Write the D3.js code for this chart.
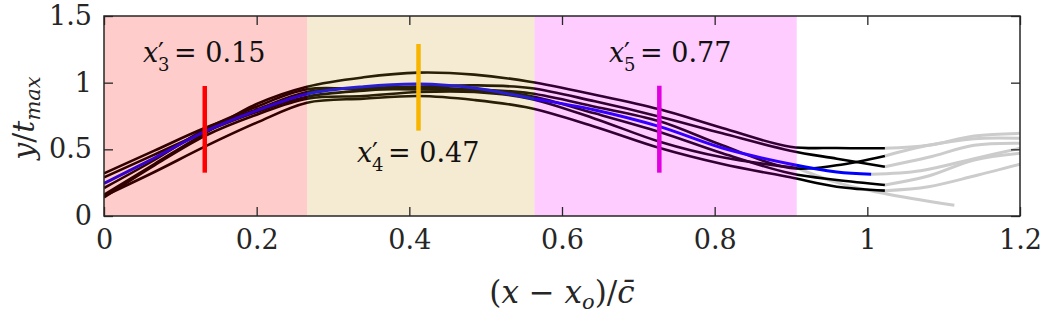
<!DOCTYPE html>
<html>
<head>
<meta charset="utf-8">
<script src="https://cdn.jsdelivr.net/npm/d3@7"></script>
<style>
  body{margin:0;background:#fff;}
  svg{display:block;font-family:"DejaVu Serif",serif;}
</style>
</head>
<body>
<div id="chart"></div>
<script>
// ---- data ----
var xTicks=[0,0.2,0.4,0.6,0.8,1,1.2];
var yTicks=[0,0.5,1,1.5];
var xTickLabels=["0","0.2","0.4","0.6","0.8","1","1.2"];
var yTickLabels=["0","0.5","1","1.5"];

// shaded regions (x start, x end) and their colours
var regionStart=[0,0.266,0.564];
var regionEnd=[0.266,0.564,0.9075];
var regionColor=["#ff0000","#cc961e","#ff00ff"];

// marker bars: x position, y bottom, y top
var markerX=[0.132,0.412,0.7275];
var markerY0=[0.325,0.64,0.325];
var markerY1=[0.975,1.29,0.977];
var markerColor=["#ff0000","#f7b500","#e000e0"];
var markerSub=["3","4","5"];
var markerVal=["0.15","0.47","0.77"];

// black profiles (x grid shared)
var xBlack=[0,0.066,0.132,0.2,0.266,0.34,0.412,0.485,0.558,0.643,0.728,0.81,0.899,0.96,1.023];
var curveA=[0.16,0.39,0.62,0.84,0.97,1.04,1.075,1.06,1.007,0.91,0.80,0.66,0.52,0.51,0.508];
var curveB=[0.32,0.49,0.66,0.80,0.93,0.96,0.97,0.98,0.96,0.86,0.745,0.62,0.49,0.43,0.37];
var curveC=[0.29,0.46,0.63,0.78,0.895,0.94,0.96,0.95,0.92,0.82,0.71,0.53,0.36,0.38,0.45];
var curveD=[0.21,0.42,0.65,0.82,0.95,0.95,0.95,0.94,0.90,0.77,0.63,0.47,0.32,0.27,0.233];
var curveE=[0.15,0.33,0.52,0.70,0.85,0.88,0.90,0.87,0.81,0.67,0.51,0.39,0.29,0.22,0.19];
var xF=[0,0.066,0.132,0.2,0.266,0.34,0.412,0.485,0.558,0.643,0.728,0.81,0.908];
var curveF=[0.14,0.38,0.60,0.76,0.88,0.90,0.93,0.93,0.88,0.73,0.557,0.44,0.36];

// mean profile (blue)
var xMean=[0,0.066,0.132,0.2,0.266,0.34,0.412,0.485,0.558,0.643,0.728,0.81,0.899,0.96,1.005];
var curveMean=[0.245,0.435,0.632,0.79,0.915,0.97,0.99,0.96,0.885,0.795,0.67,0.51,0.39,0.33,0.313];

// grey continuations
var xGrey=[1.023,1.08,1.14,1.2];
var greyA=[0.508,0.53,0.60,0.62];
var greyB=[0.37,0.44,0.53,0.545];
var greyC=[0.45,0.53,0.58,0.583];
var greyD=[0.233,0.30,0.42,0.47];
var greyE=[0.19,0.22,0.30,0.388];
var xGreyMean=[1.005,1.07,1.14,1.2];
var greyMean=[0.313,0.34,0.43,0.508];
var xGreyF=[0.908,0.955,1.021,1.114];
var greyF=[0.36,0.26,0.17,0.08];

// ---- layout ----
var W=1043,H=315;
var L=104,R=1020,T=16,B=216;

var svg=d3.select("#chart").append("svg").attr("width",W).attr("height",H);
var x=d3.scaleLinear().domain([0,1.2]).range([L,R]);
var y=d3.scaleLinear().domain([0,1.5]).range([B,T]);

function pts(xs,ys){return xs.map(function(v,i){return [v,ys[i]];});}
var line=d3.line().x(function(d){return x(d[0]);}).y(function(d){return y(d[1]);})
    .curve(d3.curveCatmullRom.alpha(0.5));

var plot=svg.append("g");
plot.append("clipPath").attr("id","clip").append("rect")
    .attr("x",L).attr("y",T).attr("width",R-L).attr("height",B-T);
var lines=plot.append("g").attr("clip-path","url(#clip)");

// grey parts first
[[xGrey,greyA],[xGrey,greyB],[xGrey,greyC],[xGrey,greyD],[xGrey,greyE],[xGreyMean,greyMean],[xGreyF,greyF]]
  .forEach(function(c){
    lines.append("path").attr("d",line(pts(c[0],c[1]))).attr("fill","none")
      .attr("stroke","#cccccc").attr("stroke-width",3);
  });
[curveA,curveB,curveC,curveD,curveE].forEach(function(c){
    lines.append("path").attr("d",line(pts(xBlack,c))).attr("fill","none")
      .attr("stroke","#000").attr("stroke-width",2.6);
});
lines.append("path").attr("d",line(pts(xF,curveF))).attr("fill","none")
    .attr("stroke","#000").attr("stroke-width",2.6);
lines.append("path").attr("d",line(pts(xMean,curveMean))).attr("fill","none")
    .attr("stroke","#0000ff").attr("stroke-width",3);

// translucent regions over the lines
regionStart.forEach(function(s,i){
    plot.append("rect").attr("x",x(s)).attr("y",T)
      .attr("width",x(regionEnd[i])-x(s)).attr("height",B-T)
      .attr("fill",regionColor[i]).attr("fill-opacity",0.2);
});

// marker bars
markerX.forEach(function(m,i){
    plot.append("line").attr("x1",x(m)).attr("x2",x(m))
      .attr("y1",y(markerY0[i])).attr("y2",y(markerY1[i]))
      .attr("stroke",markerColor[i]).attr("stroke-width",4.5);
});

// annotations: x'_n = value
var annX=[143,357,609], annY=[62,162,62];
markerSub.forEach(function(s,i){
    var g=svg.append("g").attr("transform","translate("+annX[i]+","+annY[i]+")")
      .attr("fill","#111");
    g.append("text").attr("font-size",27).attr("font-style","italic").text("x");
    g.append("text").attr("x",15).attr("y",-1).attr("font-size",26).text("\u2032");
    g.append("text").attr("x",15).attr("y",9).attr("font-size",18).text(s);
    g.append("text").attr("x",31).attr("font-size",27).text("= "+markerVal[i]);
});

// axes with inward ticks on all sides
function styleAxis(g){
    g.attr("font-family",null).attr("font-size",27);
    g.selectAll(".domain").remove();
    g.selectAll("line").attr("stroke","#262626").attr("stroke-width",1.3);
    g.selectAll("text").attr("fill","#262626");
}
svg.append("g").attr("transform","translate(0,"+B+")")
  .call(d3.axisBottom(x).tickValues(xTicks).tickSizeInner(-9).tickSizeOuter(0).tickPadding(14)
        .tickFormat(function(d,i){return xTickLabels[i];}))
  .call(styleAxis);
svg.append("g").attr("transform","translate(0,"+T+")")
  .call(d3.axisTop(x).tickValues(xTicks).tickSizeInner(-9).tickSizeOuter(0).tickFormat(""))
  .call(styleAxis);
svg.append("g").attr("transform","translate("+L+",0)")
  .call(d3.axisLeft(y).tickValues(yTicks).tickSizeInner(-9).tickSizeOuter(0).tickPadding(12)
        .tickFormat(function(d,i){return yTickLabels[i];}))
  .call(styleAxis);
svg.append("g").attr("transform","translate("+R+",0)")
  .call(d3.axisRight(y).tickValues(yTicks).tickSizeInner(-9).tickSizeOuter(0).tickFormat(""))
  .call(styleAxis);
svg.append("rect").attr("x",L).attr("y",T).attr("width",R-L).attr("height",B-T)
  .attr("fill","none").attr("stroke","#262626").attr("stroke-width",1.5);

// axis titles
var xl=svg.append("text").attr("x",(L+R)/2).attr("y",303).attr("text-anchor","middle")
  .attr("font-size",31).attr("fill","#262626");
xl.append("tspan").text("(");
xl.append("tspan").attr("font-style","italic").text("x");
xl.append("tspan").text(" \u2212 ");
xl.append("tspan").attr("font-style","italic").text("x");
xl.append("tspan").attr("font-style","italic").attr("font-size",21).attr("dy",6).text("o");
xl.append("tspan").attr("dy",-6).text(")/");
xl.append("tspan").attr("font-style","italic").text("c\u0304");

var yl=svg.append("text").attr("transform","translate(34,118) rotate(-90)").attr("text-anchor","middle")
  .attr("font-size",30).attr("fill","#262626");
yl.append("tspan").attr("font-style","italic").text("y");
yl.append("tspan").text("/");
yl.append("tspan").attr("font-style","italic").text("t");
yl.append("tspan").attr("font-style","italic").attr("font-size",21).attr("dy",6).text("max");
</script>
</body>
</html>
